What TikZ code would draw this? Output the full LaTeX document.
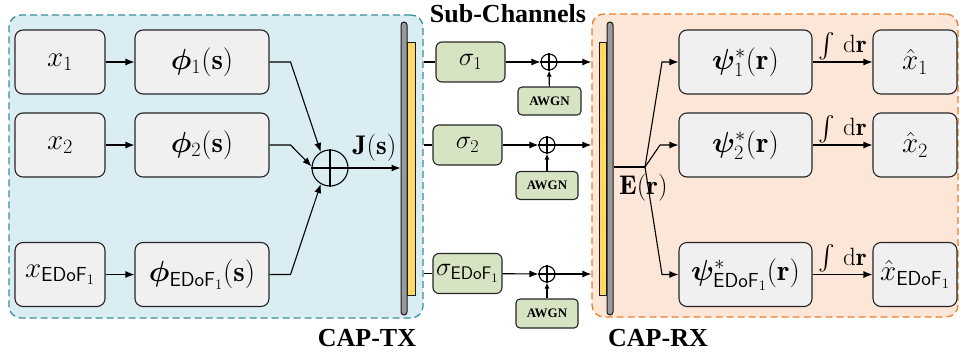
\RequirePackage{fix-cm}
\documentclass[tikz,border=0pt]{standalone}
\usepackage{amsmath,bm}
\usepackage{fontspec}
\newfontfamily\tnr{Liberation Serif}
\usetikzlibrary{arrows.meta,calc}
\definecolor{txfill}{HTML}{DAEDF3}
\definecolor{txline}{HTML}{3D8CA3}
\definecolor{rxfill}{HTML}{FBE6D7}
\definecolor{rxline}{HTML}{EE7D2C}
\definecolor{grfill}{HTML}{D7E4C4}
\definecolor{boxfill}{HTML}{F0F0F0}
\definecolor{barg}{HTML}{9A9A9A}
\definecolor{bary}{HTML}{FFD966}
\tikzset{
  big/.style={font=\fontsize{29}{33}\selectfont},
  mid/.style={font=\fontsize{27}{31}\selectfont},
  gbox/.style={draw=black!85, fill=boxfill, rounded corners=8pt, line width=1.1pt, minimum height=64pt, inner sep=0pt, big},
  sbox/.style={draw=black!85, fill=grfill, rounded corners=6pt, line width=1.1pt, minimum width=69pt, minimum height=40pt, inner sep=0pt, font=\fontsize{26}{30}\selectfont},
  abox/.style={draw=black!85, fill=grfill, rounded corners=4pt, line width=1.1pt, minimum width=62pt, minimum height=28pt, inner sep=0pt, font=\tnr\bfseries\fontsize{13}{15}\selectfont},
  plus/.style={draw, circle, line width=1.1pt, inner sep=0pt},
  gbar/.style={draw=black!90, fill=barg, rounded corners=3pt, line width=1pt, minimum width=6pt, minimum height=293pt, inner sep=0pt},
  ybar/.style={draw=black!90, fill=bary, line width=1pt, minimum width=8pt, minimum height=253pt, inner sep=0pt},
  conn/.style={line width=1.1pt},
  arr/.style={line width=1.1pt, -{Latex[length=9pt,width=7pt]}},
  lab/.style={font=\tnr\bfseries\fontsize{26}{30}\selectfont},
  intlab/.style={font=\fontsize{25}{29}\selectfont}
}
\begin{document}
\begin{tikzpicture}[x=1pt,y=-1pt]
\useasboundingbox (0,0) rectangle (960,351);
% group boxes
\node[draw=txline, fill=txfill, dashed, dash pattern=on 7pt off 4pt, line width=1.3pt, rounded corners=12pt, minimum width=414pt, minimum height=303pt, inner sep=0pt] (tx) at (216,166.5) {};
\node[draw=rxline, fill=rxfill, dashed, dash pattern=on 7pt off 4pt, line width=1.3pt, rounded corners=12pt, minimum width=366pt, minimum height=303pt, inner sep=0pt] (rx) at (775,165.5) {};
% TX blocks
\node[gbox, minimum width=90pt] (x1) at (60,62) {$x_1$};
\node[gbox, minimum width=134pt] (p1) at (202,62) {$\bm{\phi}_1(\mathbf{s})$};
\node[gbox, minimum width=90pt] (x2) at (60,145) {$x_2$};
\node[gbox, minimum width=134pt] (p2) at (202,145) {$\bm{\phi}_2(\mathbf{s})$};
\node[gbox, minimum width=90pt] (xe) at (60,274.5) {$x_{\mathsf{EDoF}_1}$};
\node[gbox, minimum width=134pt] (pe) at (202,274.5) {$\bm{\phi}_{\mathsf{EDoF}_1}(\mathbf{s})$};
\node[plus, minimum size=36pt] (sum) at (330,168) {};
\draw[line width=1.1pt] (sum.north) -- (sum.south) (sum.west) -- (sum.east);
% TX bars
\node[ybar] (txy) at (411,168.5) {};
\node[gbar] (txbar) at (404,168.5) {};
\draw[arr] (x1) -- (p1);
\draw[arr] (x2) -- (p2);
\draw[arr] (xe) -- (pe);
\draw[arr] (p1.east) -- ++(21,0) -- (sum.120);
\draw[arr] (p2.east) -- ++(21,0) -- (sum.175);
\draw[arr] (pe.east) -- ++(21,0) -- (sum.240);
\draw[arr] (sum.east) -- (sum.east -| txbar.west) node[midway, above=3pt, mid] {$\mathbf{J}(\mathbf{s})$};
% sub-channels
\node[lab] (subch) at (508,14) {Sub-Channels};
\node[sbox] (s1) at (470.5,62) {$\sigma_1$};
\node[sbox] (s2) at (467.5,145) {$\sigma_2$};
\node[sbox] (se) at (467.5,273.5) {$\sigma_{\mathsf{EDoF}_1}$};
\node[plus, minimum size=16pt] (c1) at (549,62) {};
\node[plus, minimum size=16pt] (c2) at (547,145) {};
\node[plus, minimum size=16pt] (c3) at (547,274) {};
\foreach \c in {c1,c2,c3}{\draw[line width=1.1pt] (\c.north) -- (\c.south) (\c.west) -- (\c.east);}
\node[abox, minimum width=63pt] (a1) at (549.5,101) {AWGN};
\node[abox] (a2) at (547,185.5) {AWGN};
\node[abox, minimum height=29pt] (a3) at (547,313.5) {AWGN};
\draw[conn] (s1.west -| tx.east) -- (s1.west);
\draw[conn] (s2.west -| tx.east) -- (s2.west);
\draw[conn] (se.west -| tx.east) -- (se.west);
\draw[arr] (s1) -- (c1);
\draw[arr] (s2) -- (c2);
\draw[arr] (se) -- (c3);
\draw[arr, -{Latex[length=6pt,width=5pt]}] (a1) -- (c1);
\draw[arr, -{Latex[length=6pt,width=5pt]}] (a2) -- (c2);
\draw[arr, -{Latex[length=6pt,width=5pt]}] (a3) -- (c3);
\draw[arr] (c1.east) -- (c1.east -| rx.west);
\draw[arr] (c2.east) -- (c2.east -| rx.west);
\draw[arr] (c3.east) -- (c3.east -| rx.west);
% RX bars
\node[ybar, minimum width=7pt] (rxy) at (602.5,168.5) {};
\node[gbar] (rxbar) at (610,168.5) {};
% RX blocks
\node[gbox, minimum width=133pt] (q1) at (745.5,62) {$\bm{\psi}^*_1(\mathbf{r})$};
\node[gbox, minimum width=133pt] (q2) at (745.5,145) {$\bm{\psi}^*_2(\mathbf{r})$};
\node[gbox, minimum width=133pt] (qe) at (745.5,274.5) {$\bm{\psi}^*_{\mathsf{EDoF}_1}(\mathbf{r})$};
\node[gbox, minimum width=84pt] (y1) at (915,62) {$\hat{x}_1$};
\node[gbox, minimum width=84pt] (y2) at (915,145) {$\hat{x}_2$};
\node[gbox, minimum width=84pt] (ye) at (915,274.5) {$\hat{x}_{\mathsf{EDoF}_1}$};
\coordinate (split) at (645,167);
\draw[conn] (split -| rxbar.east) -- (split);
\node[mid, anchor=north west, inner sep=0pt] (elab) at (619,174) {$\mathbf{E}(\mathbf{r})$};
\draw[arr] (split) -- (662,62) -- (q1.west);
\draw[arr] (split) -- (660,145) -- (q2.west);
\draw[arr] (split) -- (662,274.5) -- (qe.west);
\draw[arr] (q1) -- (y1) node[midway, above=-2pt, intlab] {$\int\,\mathrm{d}\mathbf{r}$};
\draw[arr] (q2) -- (y2) node[midway, above=-2pt, intlab] {$\int\,\mathrm{d}\mathbf{r}$};
\draw[arr] (qe) -- (ye) node[midway, above=-2pt, intlab] {$\int\,\mathrm{d}\mathbf{r}$};
% captions
\node[lab, anchor=base] (captx) at (367,346) {CAP-TX};
\node[lab, anchor=base] (caprx) at (658,346) {CAP-RX};
\end{tikzpicture}
\end{document}
